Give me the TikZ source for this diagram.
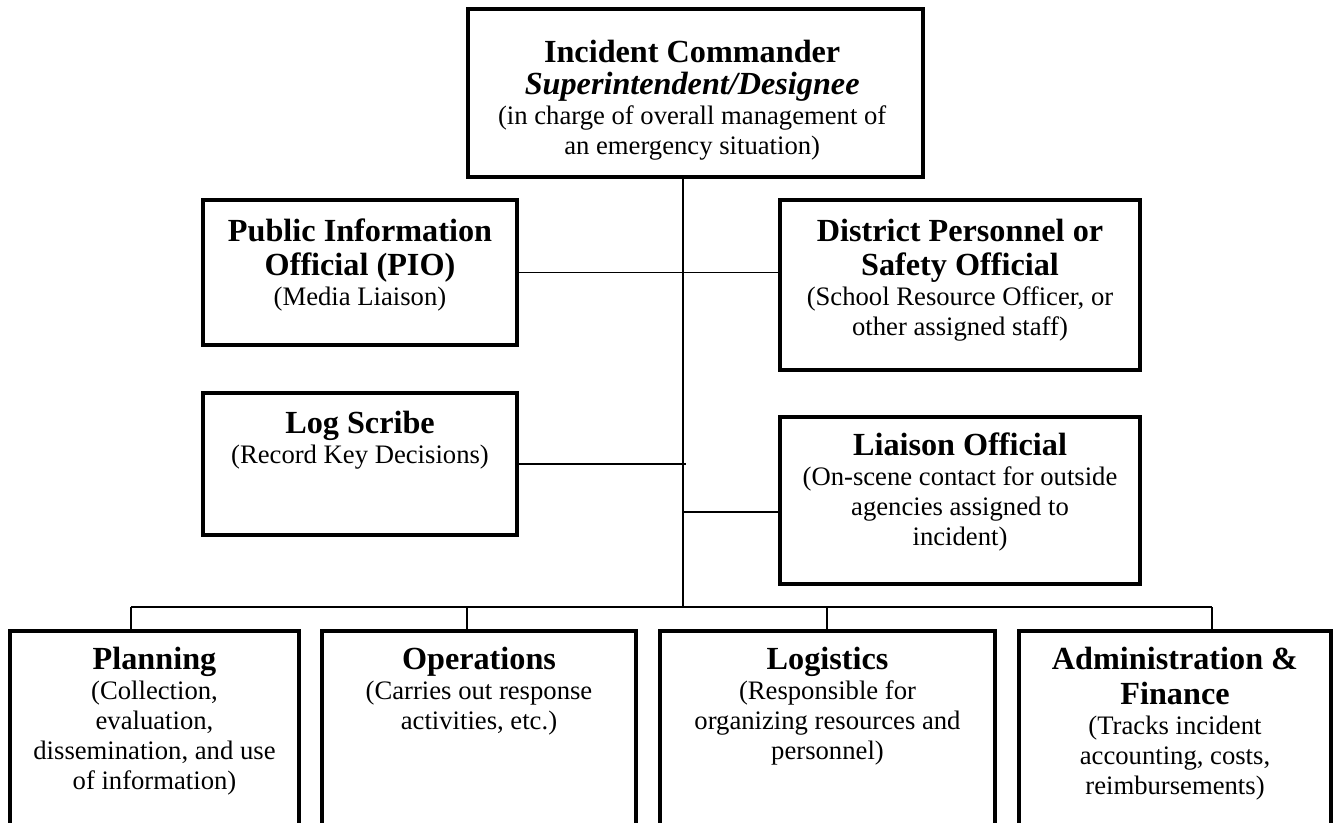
\documentclass[tikz,border=0pt]{standalone}
\usepackage{fontspec}
\setmainfont{Liberation Serif}
\usetikzlibrary{positioning}

\newcommand{\ttl}[1]{{\fontsize{14.5}{16}\selectfont\bfseries #1}}

\tikzset{
  box/.style 2 args={draw, line width=1.5pt, minimum width=#1*0.45pt,
    minimum height=#2*0.45pt, inner sep=0pt},
  txt/.style={anchor=north, align=center, inner sep=0pt,
    font=\fontsize{12}{13.5}\selectfont},
  link/.style={line width=0.8pt}
}

\begin{document}
\begin{tikzpicture}[x=0.45pt, y=-0.45pt]
  \clip (0,0) rectangle (1334,822);

  % boxes
  \node[box={455}{168}] (ic)  at (695.5,93)  {};
  \node[box={314}{145}] (pio) at (360,272.5) {};
  \node[box={360}{170}] (dp)  at (960,285)   {};
  \node[box={314}{142}] (log) at (360,464)   {};
  \node[box={360}{167}] (li)  at (960,500.5) {};
  \node[box={289}{195}] (pl)  at (154.5,728.5) {};
  \node[box={314}{195}] (op)  at (479,728.5)   {};
  \node[box={335}{195}] (lg)  at (827.5,728.5) {};
  \node[box={312}{195}] (ad)  at (1175,728.5)  {};

  % texts
  \node[txt] (ic-t) at ([xshift=-1.5pt,yshift=-14.5pt]ic.north)
    {\ttl{Incident Commander}\\[1pt] \ttl{\itshape Superintendent/Designee}\\
     (in charge of overall management of\\ an emergency situation)};
  \node[txt] (pio-t) at ([yshift=-9pt]pio.north)
    {\ttl{Public Information}\\[2pt] \ttl{Official (PIO)}\\ (Media Liaison)};
  \node[txt] (dp-t) at ([yshift=-9pt]dp.north)
    {\ttl{District Personnel or}\\[2pt] \ttl{Safety Official}\\
     (School Resource Officer, or\\ other assigned staff)};
  \node[txt] (log-t) at ([yshift=-8.5pt]log.north)
    {\ttl{Log Scribe}\\ (Record Key Decisions)};
  \node[txt] (li-t) at ([yshift=-7.5pt]li.north)
    {\ttl{Liaison Official}\\ (On-scene contact for outside\\ agencies assigned to\\ incident)};
  \node[txt] (pl-t) at ([yshift=-8pt]pl.north)
    {\ttl{Planning}\\ (Collection,\\ evaluation,\\ dissemination, and use\\ of information)};
  \node[txt] (op-t) at ([yshift=-8pt]op.north)
    {\ttl{Operations}\\ (Carries out response\\ activities, etc.)};
  \node[txt] (lg-t) at ([yshift=-8pt]lg.north)
    {\ttl{Logistics}\\ (Responsible for\\ organizing resources and\\ personnel)};
  \node[txt] (ad-t) at ([yshift=-8pt]ad.north)
    {\ttl{Administration \&}\\[2pt] \ttl{Finance}\\ (Tracks incident\\ accounting, costs,\\ reimbursements)};

  % connectors
  \coordinate (hub) at (683,607);
  \coordinate (lj)  at (683,512);
  \coordinate (d1)  at (131,607);
  \coordinate (d2)  at (467,607);
  \coordinate (d3)  at (827,607);
  \coordinate (d4)  at (1212,607);
  \draw[link] (ic.south -| hub) -- (hub);
  \draw[link] (pio.east) -- (pio.east -| dp.west);
  \draw[link] (log.east) -- ([xshift=1.5pt]log.east -| hub);
  \draw[link] (lj) -- (lj -| li.west);
  \draw[link] (d1) -- (d4);
  \draw[link] (d1) -- (d1 |- pl.north);
  \draw[link] (d2) -- (d2 |- op.north);
  \draw[link] (d3) -- (d3 |- lg.north);
  \draw[link] (d4) -- (d4 |- ad.north);
\end{tikzpicture}
\end{document}
